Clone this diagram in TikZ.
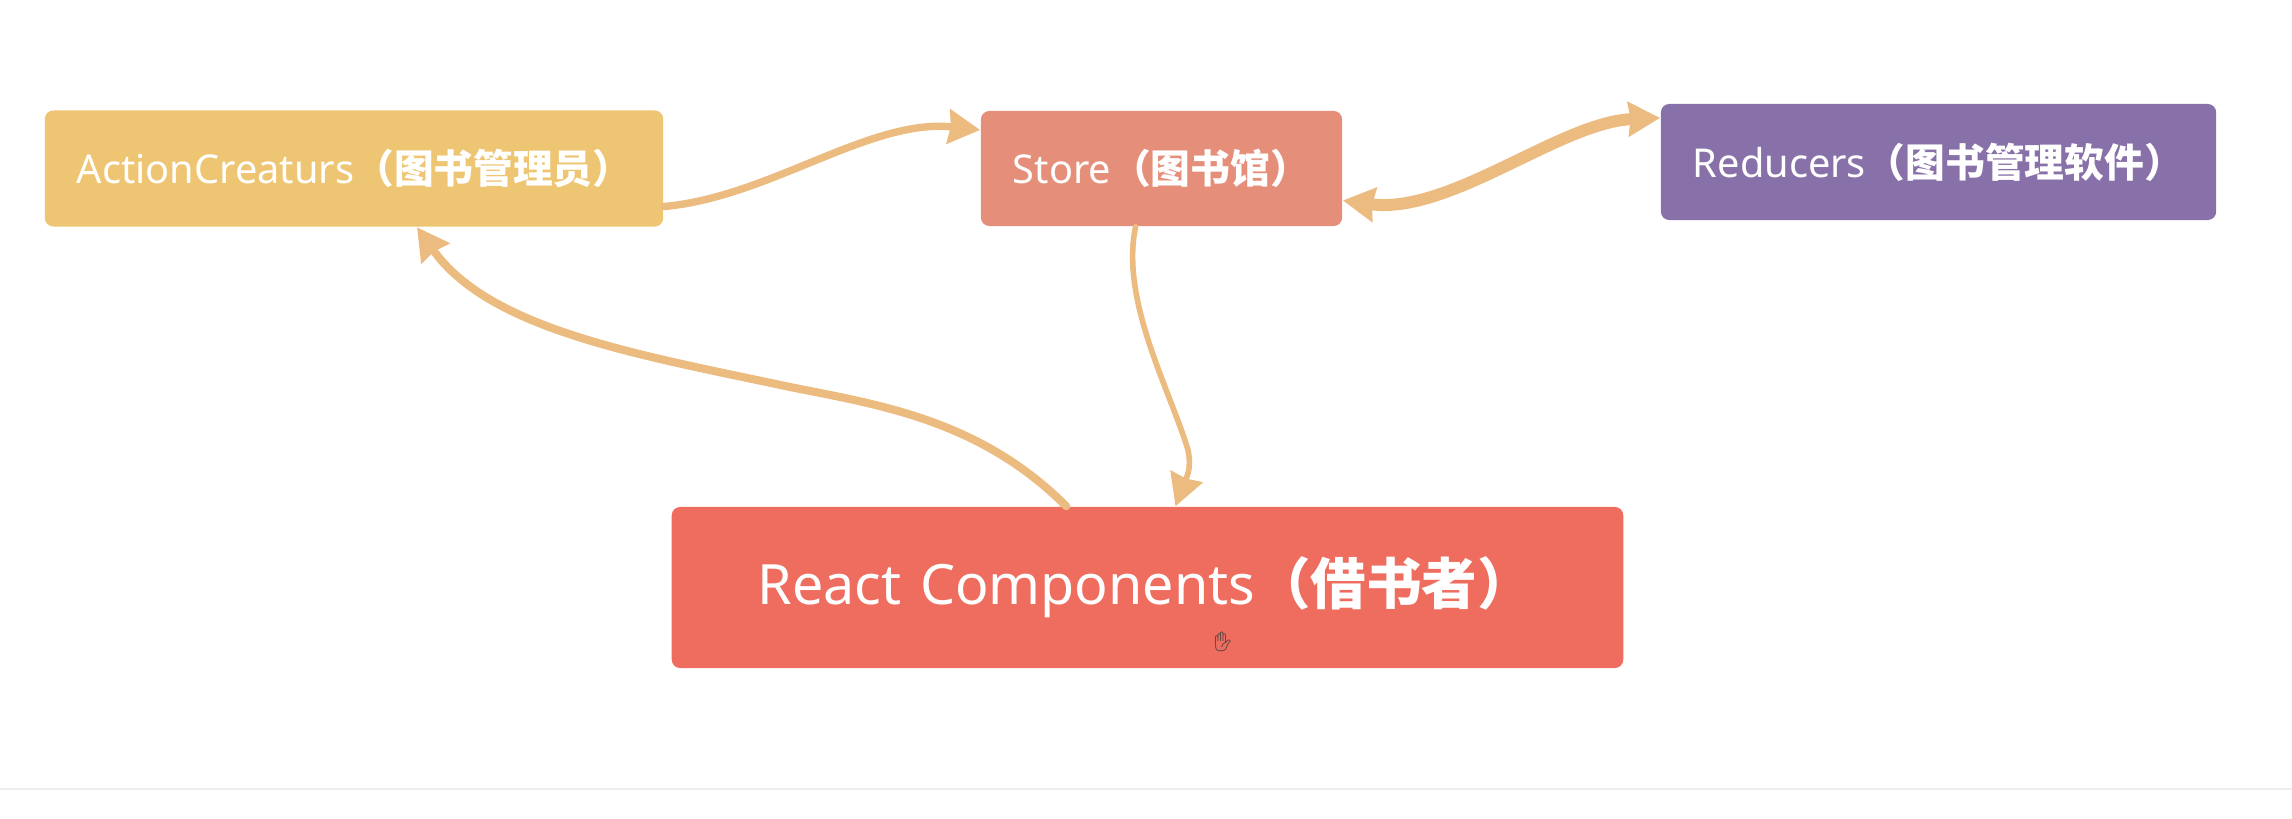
\documentclass[tikz,border=0pt]{standalone}
\usepackage{fontspec}
\setmainfont{Noto Sans}
\newfontfamily\cjk{Noto Sans CJK SC}
\newfontfamily\emojifont{Noto Emoji}
\usetikzlibrary{arrows.meta}
\definecolor{actionc}{HTML}{EEC572}
\definecolor{storec}{HTML}{E58F7B}
\definecolor{reducerc}{HTML}{8871A9}
\definecolor{reactc}{HTML}{EE6D5F}
\definecolor{flowc}{HTML}{EBBB80}
\newcommand{\zh}[1]{{\cjk\bfseries #1}}
\tikzset{
  boxnode/.style={fill=#1, rounded corners=2.4pt, text=white, align=left, inner xsep=0pt, inner ysep=0pt, font=\fontsize{11.3pt}{13pt}\selectfont},
  flowtip/.tip={Stealth[length=9pt,width=9.6pt,inset=0.6pt]},
  flow/.style={draw=flowc, line cap=round, -flowtip},
}
\begin{document}
\begin{tikzpicture}[x=0.01cm,y=-0.01cm]
  \useasboundingbox (0,0) rectangle (2292,818);
  % 四个方框
  \node[boxnode=actionc, minimum width=6.18cm, minimum height=1.16cm, text width=5.54cm] (action) at (354,168.5) {\mbox{ActionCreaturs\zh{（图书管理员）}}};
  \node[boxnode=storec, minimum width=3.61cm, minimum height=1.15cm, text width=2.97cm] (store) at (1161.5,168.5) {\mbox{Store\zh{（图书馆）}}};
  \node[boxnode=reducerc, minimum width=5.55cm, minimum height=1.16cm, text width=4.91cm] (reducers) at (1938.5,162) {\mbox{Reducers\zh{（图书管理软件）}}};
  \node[boxnode=reactc, minimum width=9.51cm, minimum height=1.61cm, text width=7.79cm, font=\fontsize{15.8pt}{18pt}\selectfont] (react) at (1147.5,587.5) {\raisebox{-1.2pt}{React Components\zh{（借书者）}}};
  % 箭头
  \draw[flow, line width=2.1pt] (action.-7.3) .. controls (770,197) and (870,118) .. (store.168.7);
  \draw[flow, line width=3.4pt, flowtip-flowtip] (store.-10.5) .. controls (1450,215) and (1560,122) .. (reducers.171.8);
  \draw[flow, line width=1.6pt] (store.246.9) .. controls (1120,300) and (1170,390) .. (1188,450) .. controls (1192,470) and (1186,478) .. (react.71.8);
  \draw[flow, line width=2.3pt] (react.135.7) .. controls (980,420) and (880,405) .. (790,387) .. controls (640,355) and (490,330) .. (action.-43.8);
  % 底部细线与光标
  \coordinate (ruleL) at (0,789);
  \coordinate (ruleR) at (2292,789);
  \draw[line width=0.6pt, black!7] (ruleL) -- (ruleR);
  \node[text=black!75, inner sep=0pt, font=\fontsize{5.5pt}{6pt}\selectfont] (cursor) at (1223,642) {\emojifont ✋};
\end{tikzpicture}
\end{document}
